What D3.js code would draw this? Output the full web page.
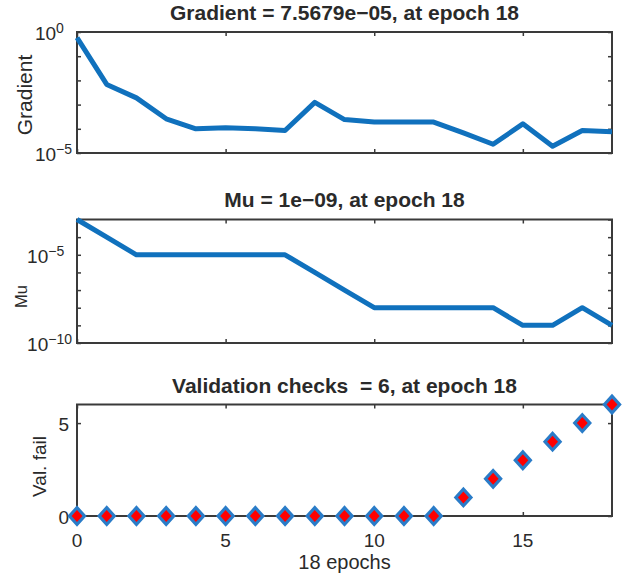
<!DOCTYPE html>
<html>
<head>
<meta charset="utf-8">
<script src="https://cdn.jsdelivr.net/npm/d3@7"></script>
<style>
  body { margin: 0; background: #fff; }
  text { font-family: "Liberation Sans", Arial, sans-serif; fill: #2a2a2a; }
</style>
</head>
<body>
<script>
// training state values
const epochs = [0, 1, 2, 3, 4, 5, 6, 7, 8, 9, 10, 11, 12, 13, 14, 15, 16, 17, 18];
const gradient = [0.59, 6.8e-3, 1.9e-3, 2.6e-4, 1.0e-4, 1.1e-4, 1.0e-4, 8.5e-5, 1.23e-3, 2.4e-4,
                  1.9e-4, 1.9e-4, 1.9e-4, 6.8e-5, 2.3e-5, 1.6e-4, 1.9e-5, 8.5e-5, 7.5679e-5];
const mu = [1e-3, 1e-4, 1e-5, 1e-5, 1e-5, 1e-5, 1e-5, 1e-5, 1e-6, 1e-7,
            1e-8, 1e-8, 1e-8, 1e-8, 1e-8, 1e-9, 1e-9, 1e-8, 1e-9];
const valFail = [0, 0, 0, 0, 0, 0, 0, 0, 0, 0, 0, 0, 0, 1, 2, 3, 4, 5, 6];
const xTicks = [0, 5, 10, 15];
const gradTicks = [1e-5, 1e-4, 1e-3, 1e-2, 1e-1, 1];
const gradLabels = { "1": "0", "0.00001": "\u22125" };
const muTicks = [1e-10, 1e-9, 1e-8, 1e-7, 1e-6, 1e-5, 1e-4, 1e-3];
const muLabels = { "1e-10": "\u221210", "0.00001": "\u22125" };
const valTicks = [0, 5];

const W = 633, H = 580;
const left = 77, right = 612;

const svg = d3.select("body").append("svg")
  .attr("width", W)
  .attr("height", H);

const x = d3.scaleLinear().domain([0, 18]).range([left, right]);

// draws frame, inward ticks on all four sides
function frame(y, yTicks, top, bottom) {
  const g = svg.append("g");
  g.append("g").attr("transform", `translate(0,${bottom})`)
    .call(d3.axisBottom(x).tickValues(xTicks).tickSize(-4).tickFormat(""));
  g.append("g").attr("transform", `translate(0,${top})`)
    .call(d3.axisTop(x).tickValues(xTicks).tickSize(-4).tickFormat(""));
  g.append("g").attr("transform", `translate(${right},0)`)
    .call(d3.axisRight(y).tickValues(yTicks).tickSize(-4).tickFormat(""));
  const ax = g.append("g").attr("transform", `translate(${left},0)`)
    .call(d3.axisLeft(y).tickValues(yTicks).tickSize(-4).tickFormat(""));
  g.selectAll(".domain").remove();
  g.selectAll(".tick line").attr("stroke", "#3a3a3a").attr("stroke-width", 1.5);
  g.append("rect")
    .attr("x", left).attr("y", top)
    .attr("width", right - left).attr("height", bottom - top)
    .attr("fill", "none").attr("stroke", "#3a3a3a").attr("stroke-width", 2);
  return ax;
}

// 10^n labels, left aligned so the widest one ends near the frame
function powerLabels(ax, labels) {
  const t = ax.selectAll(".tick")
    .filter(d => labels[String(d)] !== undefined)
    .append("text")
    .attr("text-anchor", "start")
    .attr("y", 7.5)
    .style("font-size", "19px");
  t.append("tspan").text("10");
  t.append("tspan").attr("dy", -7).style("font-size", "14px").text(d => labels[String(d)]);
  let maxW = 0;
  t.each(function () { maxW = Math.max(maxW, this.getComputedTextLength()); });
  t.attr("x", -5 - maxW);
}

function title(txt, yPos) {
  svg.append("text")
    .attr("x", (left + right) / 2).attr("y", yPos)
    .attr("text-anchor", "middle")
    .style("font-size", "21px").style("font-weight", "bold")
    .style("white-space", "pre")
    .text(txt);
}

function ylabel(txt, xPos, yPos, size) {
  svg.append("text")
    .attr("transform", `translate(${xPos},${yPos}) rotate(-90)`)
    .attr("text-anchor", "middle")
    .style("font-size", size + "px")
    .text(txt);
}

const line = (y, vals) => d3.line().x((d, i) => x(epochs[i])).y(d => y(d))(vals);

// gradient
const yG = d3.scaleLog().domain([1e-5, 1]).range([153, 32]);
const axG = frame(yG, gradTicks, 32, 153);
powerLabels(axG, gradLabels);
svg.append("path")
  .attr("d", line(yG, gradient))
  .attr("fill", "none").attr("stroke", "#1071bd")
  .attr("stroke-width", 5).attr("stroke-linejoin", "round");
title("Gradient = 7.5679e\u221205, at epoch 18", 19.5);
ylabel("Gradient", 32, 95, 21);

// mu
const yM = d3.scaleLog().domain([1e-10, 1e-3]).range([343, 219.5]);
const axM = frame(yM, muTicks, 219.5, 343);
powerLabels(axM, muLabels);
svg.append("path")
  .attr("d", line(yM, mu))
  .attr("fill", "none").attr("stroke", "#1071bd")
  .attr("stroke-width", 5).attr("stroke-linejoin", "round");
title("Mu = 1e\u221209, at epoch 18", 207);
ylabel("Mu", 27, 296.5, 16.5);

// validation checks
const yV = d3.scaleLinear().domain([0, 6]).range([516, 404.5]);
const axV = frame(yV, valTicks, 404.5, 516);
axV.selectAll(".tick").append("text")
  .attr("x", -8).attr("y", 7)
  .attr("text-anchor", "end")
  .style("font-size", "19px")
  .text(d => d);
svg.append("g").attr("transform", "translate(0,516)")
  .selectAll("text").data(xTicks).join("text")
  .attr("x", d => x(d)).attr("y", 30.5)
  .attr("text-anchor", "middle")
  .style("font-size", "19px")
  .text(d => d);

const diamond = d3.symbol().type(d3.symbolSquare).size(115);
svg.append("g").selectAll("path").data(valFail).join("path")
  .attr("d", diamond)
  .attr("transform", (d, i) => `translate(${x(epochs[i])},${yV(d)}) scale(1,1.1) rotate(45)`)
  .attr("fill", "#ff0000")
  .attr("stroke", "#2a7cc8")
  .attr("stroke-width", 3);

title("Validation checks  = 6, at epoch 18", 392.5);
ylabel("Val. fail", 46, 466.5, 19);

svg.append("text")
  .attr("x", (left + right) / 2).attr("y", 569)
  .attr("text-anchor", "middle")
  .style("font-size", "20px")
  .text("18 epochs");
</script>
</body>
</html>
